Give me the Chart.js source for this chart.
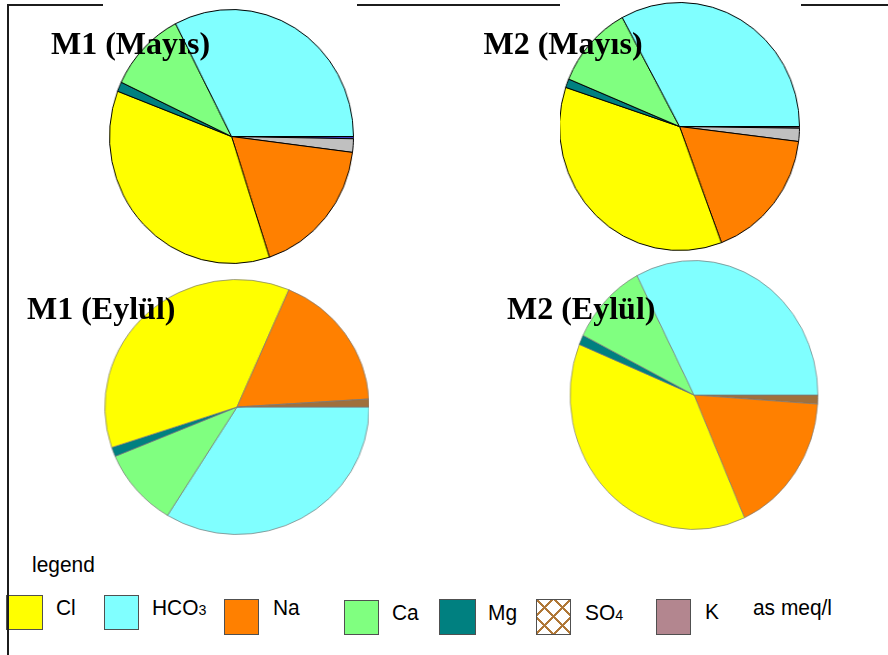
<!DOCTYPE html>
<html><head><meta charset="utf-8">
<script src="https://cdn.jsdelivr.net/npm/chart.js@4.4.1/dist/chart.umd.min.js"></script>
<style>
html,body{margin:0;padding:0;background:#fff;}
#stage{position:relative;width:888px;height:655px;overflow:hidden;background:#fff;}
.line{position:absolute;background:#1c1c1c;}
.box{position:absolute;overflow:hidden;}
.title{position:absolute;z-index:5;font-family:'Liberation Serif','Times New Roman',serif;font-weight:bold;font-size:32px;line-height:32px;white-space:nowrap;color:#000;}
.lg{position:absolute;font-family:'Liberation Sans',Arial,sans-serif;font-size:22px;line-height:22px;white-space:nowrap;color:#000;transform:scaleX(0.95);transform-origin:0 0;}
.lg .sm{font-size:15px;}
.sw{position:absolute;box-sizing:border-box;border:1px solid #505050;}
</style></head><body>
<div id="stage">
  <div class="line" style="left:7px;top:4px;width:881px;height:2px;"></div>
  <div class="line" style="left:7px;top:4px;width:2px;height:651px;z-index:4;"></div>
</div>
<script>
// ---- data (shares of each pie, in %, slice order = clockwise from 3 o'clock)
const ionsMayisM1 = ['K', 'SO4', 'Na', 'Cl', 'Mg', 'Ca', 'HCO3'];
const valuesMayisM1 = [0.28, 1.72, 17.97, 35.83, 1.22, 10.39, 32.58];
const ionsMayisM2 = ['K', 'SO4', 'Na', 'Cl', 'Mg', 'Ca', 'HCO3'];
const valuesMayisM2 = [0.22, 1.72, 17.39, 35.78, 1.14, 10.83, 32.92];
const ionsEylulM1 = ['HCO3', 'Ca', 'Mg', 'Cl', 'Na', 'SO4'];
const valuesEylulM1 = [33.81, 9.86, 1.19, 36.56, 17.58, 1.00];
const ionsEylulM2 = ['SO4', 'Na', 'Cl', 'Mg', 'Ca', 'HCO3'];
const valuesEylulM2 = [1.08, 17.25, 37.81, 1.19, 10.06, 32.61];
const pieTitles = ['M1 (Mayıs)', 'M2 (Mayıs)', 'M1 (Eylül)', 'M2 (Eylül)'];
const legendHeading = 'legend';
const legendIons = ['Cl', 'HCO3', 'Na', 'Ca', 'Mg', 'SO4', 'K'];
const unitNote = 'as meq/l';

// ---- styles
const ionColors = {Cl:'#ffff00', HCO3:'#80ffff', Na:'#ff8000', Ca:'#80ff80', Mg:'#008080', SO4:'#a0703c', K:'#b3868f'};
const mayisM1Colors = Object.assign({}, ionColors, {SO4:'#c0c0c0', K:'#4040c0'});
const mayisM2Colors = Object.assign({}, ionColors, {SO4:'#c0c0c0', K:'#806878'});

const stage = document.getElementById('stage');

function makeBox(left, top, w, h, bg) {
  const d = document.createElement('div');
  d.className = 'box';
  d.style.cssText += `left:${left}px;top:${top}px;width:${w}px;height:${h}px;background:${bg};`;
  stage.appendChild(d);
  return {el: d, left, top};
}

function makePie(box, cx, cy, rx, ry, labels, values, colorMap, border) {
  const S = Math.round(2 * ry) + 1;
  const wrap = document.createElement('div');
  wrap.style.cssText = `position:absolute;left:${cx - box.left - S / 2}px;top:${cy - box.top - S / 2}px;width:${S}px;height:${S}px;transform:scale(${rx / ry},1);transform-origin:50% 50%;`;
  const cv = document.createElement('canvas');
  cv.width = S; cv.height = S;
  cv.style.width = S + 'px'; cv.style.height = S + 'px';
  wrap.appendChild(cv);
  box.el.appendChild(wrap);
  new Chart(cv, {
    type: 'pie',
    data: {labels: labels, datasets: [{data: values, backgroundColor: labels.map(l => colorMap[l]),
      borderColor: border, borderWidth: 1, hoverOffset: 0, offset: 0}]},
    options: {responsive: false, animation: false, rotation: 90, events: [],
      layout: {padding: 0}, plugins: {legend: {display: false}, tooltip: {enabled: false}}}
  });
}

// pie boxes (white image frames as in the original sheet)
const b1 = makeBox(103, 0, 254, 268, '#fff');
makePie(b1, 231.5, 136, 122, 127, ionsMayisM1, valuesMayisM1, mayisM1Colors, '#000');
const b2 = makeBox(560, 0, 241, 255, '#fff');
makePie(b2, 679, 126.7, 120, 124, ionsMayisM2, valuesMayisM2, mayisM2Colors, '#000');
const b3 = makeBox(100, 272, 268.7, 268, 'transparent');
makePie(b3, 237.3, 406.7, 132, 127.3, ionsEylulM1, valuesEylulM1, ionColors, 'rgba(120,120,120,0.7)');
const b4 = makeBox(550, 255, 290, 290, 'transparent');
makePie(b4, 694, 394.7, 124, 134.6, ionsEylulM2, valuesEylulM2, ionColors, 'rgba(120,120,120,0.7)');

// titles
const titlePos = [[51, 27.2], [483.5, 27.2], [27, 291.5], [507, 291.5]];
pieTitles.forEach((t, i) => {
  const d = document.createElement('div');
  d.className = 'title';
  d.textContent = t;
  d.style.left = titlePos[i][0] + 'px';
  d.style.top = titlePos[i][1] + 'px';
  stage.appendChild(d);
});

// legend
function addText(txt, left, top) {
  const d = document.createElement('div');
  d.className = 'lg';
  const m = txt.match(/^(.*?)(\d+)$/);
  if (m) {
    d.appendChild(document.createTextNode(m[1]));
    const s = document.createElement('span');
    s.className = 'sm';
    s.textContent = m[2];
    d.appendChild(s);
  } else {
    d.textContent = txt;
  }
  d.style.left = left + 'px';
  d.style.top = top + 'px';
  stage.appendChild(d);
}
addText(legendHeading, 31.5, 554);
const swatchPos = [[6, 595, 37, 35], [104, 595, 35, 35], [224, 599, 35, 36], [344, 600, 35, 35], [439, 599, 37, 36], [536, 599, 35, 36], [656, 599, 35, 36]];
const textPos = [[56, 597], [152, 597.4], [272.5, 597], [392, 602.4], [488, 602.4], [584.5, 602.4], [704.5, 601.4]];
legendIons.forEach((ion, i) => {
  const s = document.createElement('div');
  s.className = 'sw';
  const p = swatchPos[i];
  s.style.left = p[0] + 'px'; s.style.top = p[1] + 'px';
  s.style.width = p[2] + 'px'; s.style.height = p[3] + 'px';
  if (ion === 'SO4') {
    s.style.background = 'repeating-linear-gradient(45deg, transparent 0 10.5px, #b07838 10.5px 12.5px), repeating-linear-gradient(-45deg, #fff 0 10.5px, #b07838 10.5px 12.5px)';
  } else {
    s.style.background = ionColors[ion];
  }
  stage.appendChild(s);
  addText(ion, textPos[i][0], textPos[i][1]);
});
addText(unitNote, 752.5, 597);
</script>
</body></html>
